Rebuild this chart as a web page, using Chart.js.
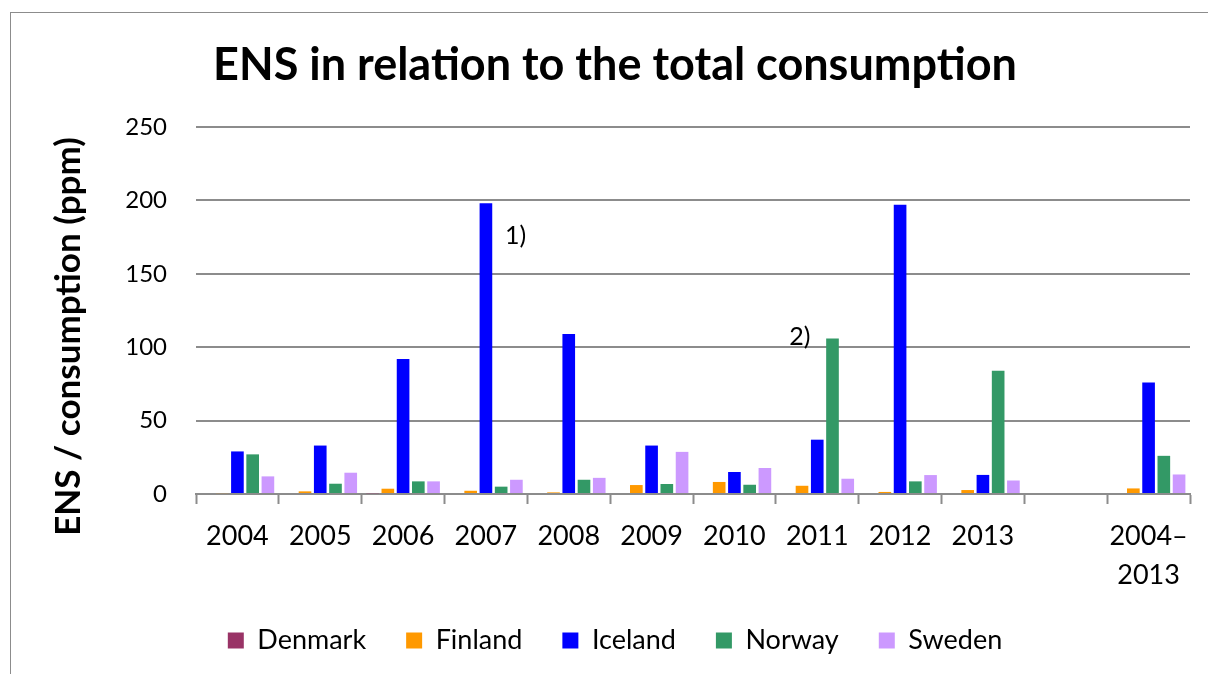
<!DOCTYPE html>
<html>
<head>
<meta charset="utf-8">
<script src="https://cdn.jsdelivr.net/npm/chart.js@4.4.0/dist/chart.umd.min.js"></script>
<style>
  html, body { margin: 0; padding: 0; background: #fff; overflow: hidden; }
  #wrap { position: relative; width: 1208px; height: 674px; }
  #frame { position: absolute; left: 10px; top: 12px; width: 1210px; height: 680px; border: 1px solid #8c8c8c; box-sizing: border-box; }
  canvas { position: absolute; left: 0; top: 0; }
</style>
</head>
<body>
<div id="wrap">
  <div id="frame"></div>
  <canvas id="chart" width="1208" height="674"></canvas>
</div>
<script>
const years = ['2004', '2005', '2006', '2007', '2008', '2009', '2010', '2011', '2012', '2013', '', ['2004–', '2013']];

const denmark = [0, 0, 0.5, 0, 0, 0, 0, 0, 0, 0, null, 0];
const finland = [0.6, 1.8, 3.6, 2.2, 1.1, 6.1, 8.2, 5.6, 1.4, 2.7, null, 3.8];
const iceland = [29, 33, 92, 198, 109, 33, 15, 37, 197, 13, null, 76];
const norway = [27, 7, 8.6, 5, 9.7, 6.8, 6.3, 106, 8.6, 84, null, 26];
const sweden = [12, 14.5, 8.6, 9.7, 11, 28.7, 17.7, 10.4, 12.9, 9.2, null, 13.3];

const yTicks = [0, 50, 100, 150, 200, 250];
const yTitle = 'ENS / consumption (ppm)';

const font = "Lato, 'Open Sans', sans-serif";

// footnote marks next to the 2007 Iceland bar and the 2011 Norway bar
const notes = [
    { text: '1)', dataset: 2, index: 3, value: 176, dx: 19, align: 'left' },
    { text: '2)', dataset: 3, index: 7, value: 107, dx: -22, align: 'right' }
];

const extrasPlugin = {
    id: 'extras',
    afterDraw(chart) {
        const ctx = chart.ctx;
        const area = chart.chartArea;
        ctx.save();
        ctx.fillStyle = '#000';
        ctx.textBaseline = 'middle';

        ctx.font = '25px ' + font;
        notes.forEach(n => {
            const bar = chart.getDatasetMeta(n.dataset).data[n.index];
            ctx.textAlign = n.align;
            ctx.fillText(n.text, bar.x + n.dx, chart.scales.y.getPixelForValue(n.value));
        });

        // y axis title, a bit below the middle of the plot like the original
        ctx.translate(69, (area.top + area.bottom) / 2 + 26);
        ctx.rotate(-Math.PI / 2);
        ctx.textAlign = 'center';
        ctx.font = 'bold 35px ' + font;
        ctx.fillText(yTitle, 0, 0);
        ctx.restore();
    }
};

function series(label, data, color) {
    return {
        label: label,
        data: data,
        backgroundColor: color,
        borderColor: color,
        borderWidth: 0,
        categoryPercentage: 0.92,
        barPercentage: 0.83
    };
}

new Chart(document.getElementById('chart'), {
    type: 'bar',
    data: {
        labels: years,
        datasets: [
            series('Denmark', denmark, '#993366'),
            series('Finland', finland, '#FF9900'),
            series('Iceland', iceland, '#0000FF'),
            series('Norway', norway, '#339966'),
            series('Sweden', sweden, '#CC99FF')
        ]
    },
    options: {
        responsive: false,
        animation: false,
        layout: { padding: { left: 40, right: 18, top: 10, bottom: 10 } },
        plugins: {
            title: {
                display: true,
                text: 'ENS in relation to the total consumption',
                color: '#000',
                font: { family: font, size: 45, weight: 'bold' },
                padding: { top: 28, bottom: 35 }
            },
            legend: {
                position: 'bottom',
                labels: {
                    color: '#000',
                    font: { family: font, size: 27 },
                    boxWidth: 16,
                    boxHeight: 16,
                    padding: 40
                }
            },
            tooltip: { enabled: false }
        },
        scales: {
            x: {
                afterFit: axis => { axis.height = 93; },
                grid: { display: true, drawOnChartArea: false, drawTicks: true, tickLength: 10, tickColor: '#8c8c8c', tickWidth: 2, offset: true },
                border: { display: true, color: '#8c8c8c', width: 2 },
                ticks: { color: '#000', font: { family: font, size: 27, lineHeight: 1.45 }, padding: 13, maxRotation: 0, autoSkip: false }
            },
            y: {
                min: 0,
                max: 250,
                afterFit: axis => { axis.width = 156; },
                afterBuildTicks: axis => { axis.ticks = yTicks.map(v => ({ value: v })); },
                grid: { color: '#8c8c8c', lineWidth: 2, drawTicks: false },
                border: { display: false },
                ticks: { color: '#000', font: { family: font, size: 24 }, padding: 29 }
            }
        }
    },
    plugins: [extrasPlugin]
});
</script>
</body>
</html>
